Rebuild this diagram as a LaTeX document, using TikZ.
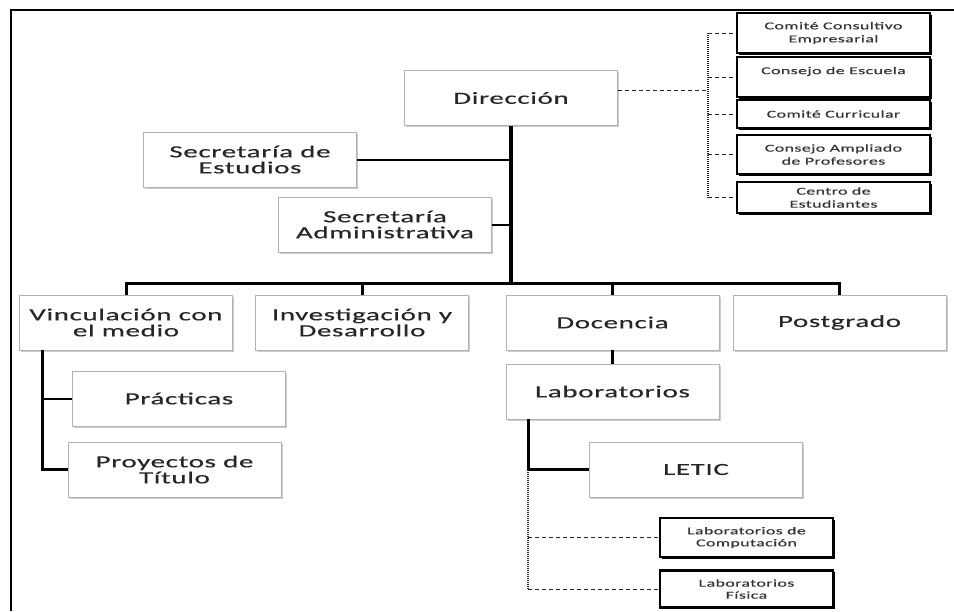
\documentclass[tikz,border=0pt]{standalone}
\usepackage{fontspec}
\setmainfont{Carlito}[FakeStretch=1.7,LetterSpace=4,FakeBold=0.4]
\usetikzlibrary{shadows}

\begin{document}
\begin{tikzpicture}[x=1pt, y=-1pt,
    unit/.style={draw=black!30, line width=0.8pt, fill=white, text=black!85,
        minimum width=213pt, minimum height=55pt, align=center, inner sep=2pt,
        font=\fontsize{17}{16}\selectfont,
        drop shadow={opacity=0.4, shadow xshift=1.5pt, shadow yshift=-1.8pt}},
    council/.style={draw=black, line width=2.4pt, fill=white, text=black!80,
        minimum width=193pt, align=center, inner sep=1pt,
        font=\fontsize{10.5}{13}\selectfont,
        drop shadow={fill=black, opacity=1, shadow xshift=1.5pt, shadow yshift=-1.5pt}},
    trunk/.style={line width=4.5pt},
    bus/.style={line width=3pt},
    branch/.style={line width=2pt},
    link/.style={line width=1pt, black!85, dash pattern=on 4pt off 3pt},
    rail/.style={line width=1.5pt, black!85, dash pattern=on 1pt off 1pt}]

    \useasboundingbox (0,0) rectangle (954,611);

    %% Frame
    \draw[line width=2pt] (11,611) -- (11,10) -- (954,10);

    %% Direction and secretaries
    \node[unit] (dir)    at (511,98)    {Dirección};
    \node[unit] (secest) at (250,159.5) {Secretaría de\\Estudios};
    \node[unit] (secadm) at (385,224.5) {Secretaría\\Administrativa};

    % Councils
    \node[council, minimum height=40pt] (cce)  at (833.5,33)    {Comité Consultivo\\Empresarial};
    \node[council, minimum height=40pt] (ces)  at (833.5,77)    {Consejo de Escuela\\ \mbox{}};
    \node[council, minimum height=28pt] (ccur) at (833.5,114)   {Comité Curricular};
    \node[council, minimum height=39pt] (cap)  at (833.5,154.5) {Consejo Ampliado\\de Profesores};
    \node[council, minimum height=31pt] (cest) at (833.5,197.5) {Centro de\\Estudiantes};

    %% Areas
    \node[unit] (vinc) at (126,322.5)   {Vinculación con\\el medio};
    \node[unit] (inv)  at (362,322.5)   {Investigación y\\Desarrollo};
    \node[unit] (doc)  at (612.5,322.5) {Docencia};
    \node[unit] (post) at (839.5,322.5) {Postgrado};

    % Sub units
    \node[unit] (prac)  at (179,398.5)   {Prácticas};
    \node[unit] (proy)  at (174.5,469.5) {Proyectos de\\Título};
    \node[unit] (lab)   at (612.5,391.5) {Laboratorios};
    \node[unit] (letic) at (696,469.5)   {LETIC};

    % Laboratories
    \node[council, minimum width=173pt, minimum height=39pt, font=\fontsize{10.5}{12}\selectfont]
        (labcomp) at (746.5,537.5) {Laboratorios de\\Computación};
    \node[council, minimum width=173pt, minimum height=37pt, font=\fontsize{10.5}{12}\selectfont]
        (labfis)  at (746.5,589) {Laboratorios\\Física};

    %% Connectors
    \coordinate (bus)   at (511,283);
    \coordinate (cbus)  at (708,90);
    \coordinate (vroot) at (42,349.5);
    \coordinate (lroot) at (528,419);

    \draw[trunk] (dir.south) -- (bus);
    \draw[branch] (secest.east) -- (secest.east -| dir.south);
    \draw[branch] (secadm.east) -- (secadm.east -| dir.south);

    \draw[bus] (vinc.north) -- (vinc.north |- bus) -- (post.north |- bus) -- (post.north);
    \draw[bus] (inv.north) -- (inv.north |- bus);
    \draw[bus] (doc.north) -- (doc.north |- bus);
    \draw[bus] (doc.south) -- (lab.north);

    \draw[bus] (vroot) |- (proy.west);
    \draw[branch] (prac.west -| vroot) -- (prac.west);

    \draw[bus] (lroot) |- (letic.west);
    \draw[rail] (letic.west -| lroot) -- (labfis.west -| lroot);
    \draw[link] (labcomp.west -| lroot) -- (labcomp.west);
    \draw[link] (labfis.west -| lroot) -- (labfis.west);

    % Councils
    \draw[link] (dir.east |- cbus) -- (cbus);
    \draw[rail] (cbus |- cce.west) -- (cbus |- cest.west);
    \foreach \c in {cce,ces,ccur,cap,cest}
        \draw[link] (cbus |- \c.west) -- (\c.west);

\end{tikzpicture}
\end{document}
